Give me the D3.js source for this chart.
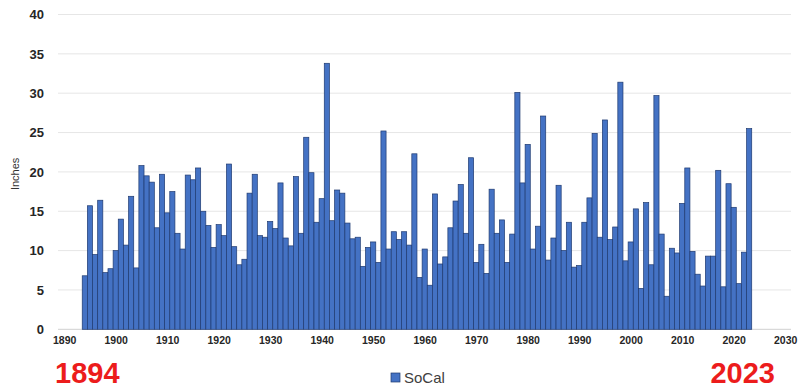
<!DOCTYPE html>
<html>
<head>
<meta charset="utf-8">
<script src="https://cdn.jsdelivr.net/npm/d3@7"></script>
<style>
    body { margin: 0; background: #fff; }
    svg { display: block; font-family: "Liberation Sans", Arial, sans-serif; }
    .axis text { fill: #262626; font-weight: bold; }
    .grid-lines line { stroke: #e6e6e6; stroke-width: 1; }
    .chart-bar { fill: #4472c4; stroke: #1f3a70; stroke-width: 0.7; }
</style>
</head>
<body>
<script>

// Data ////////////////////////////////////

const years = d3.range(1894, 2024);

const rainfall = [
    6.8, 15.7, 9.5, 16.4, 7.2, 7.7, 10.0, 14.0, 10.7, 16.9,
    7.8, 20.8, 19.5, 18.7, 12.9, 19.7, 14.8, 17.5, 12.2, 10.2,
    19.6, 19.0, 20.5, 15.0, 13.2, 10.4, 13.3, 11.9, 21.0, 10.5,
    8.2, 8.9, 17.3, 19.7, 11.9, 11.7, 13.7, 12.8, 18.6, 11.6,
    10.6, 19.4, 12.2, 24.4, 19.9, 13.6, 16.6, 33.8, 13.8, 17.7,
    17.3, 13.5, 11.5, 11.7, 8.0, 10.4, 11.1, 8.5, 25.2, 10.2,
    12.4, 11.4, 12.4, 10.7, 22.3, 6.6, 10.2, 5.6, 17.2, 8.3,
    9.2, 12.9, 16.3, 18.4, 12.2, 21.8, 8.5, 10.8, 7.1, 17.8,
    12.2, 13.9, 8.5, 12.1, 30.1, 18.6, 23.5, 10.2, 13.1, 27.1,
    8.8, 11.6, 18.3, 10.0, 13.6, 7.9, 8.1, 13.6, 16.7, 24.9,
    11.7, 26.6, 11.4, 13.0, 31.4, 8.7, 11.1, 15.3, 5.2, 16.1,
    8.2, 29.7, 12.1, 4.2, 10.3, 9.7, 16.0, 20.5, 9.9, 7.0,
    5.5, 9.3, 9.3, 20.2, 5.4, 18.5, 15.5, 5.8, 9.8, 25.5
];

const xTicks = [1890, 1900, 1910, 1920, 1930, 1940, 1950, 1960, 1970, 1980, 1990, 2000, 2010, 2020, 2030];
const yTicks = [0, 5, 10, 15, 20, 25, 30, 35, 40];

const seriesName = "SoCal";
const yTitle = "Inches";
const firstLabel = "1894";
const lastLabel = "2023";

// Layout ////////////////////////////////////

const dim = { width: 799, height: 390 };
const plot = { left: 58, right: 791, top: 14.5, bottom: 329.3 };

const x = d3.scaleLinear()
    .domain([1890, 2030])
    .range([64.2, 785.2]);

const y = d3.scaleLinear()
    .domain([0, 40])
    .range([plot.bottom, plot.top]);

const barW = x(1) - x(0);

const svg = d3.select("body").append("svg")
    .attr("width", dim.width)
    .attr("height", dim.height)
    .attr("viewBox", [0, 0, dim.width, dim.height]);

// grid lines

svg.append("g")
    .attr("class", "grid-lines")
    .selectAll("line")
    .data(yTicks)
    .join("line")
    .attr("x1", plot.left)
    .attr("x2", plot.right)
    .attr("y1", d => y(d))
    .attr("y2", d => y(d))
    .style("stroke", d => d === 0 ? "#d0d0d0" : null);

// bars

svg.append("g")
    .selectAll("rect")
    .data(years.map((yr, i) => ({ yr, v: rainfall[i] })))
    .join("rect")
    .attr("class", "chart-bar")
    .attr("x", d => x(d.yr) - barW / 2)
    .attr("y", d => y(d.v))
    .attr("width", barW)
    .attr("height", d => y(0) - y(d.v));

// y axis

const yAxis = d3.axisLeft(y)
    .tickValues(yTicks)
    .tickSize(0)
    .tickPadding(0);

svg.append("g")
    .attr("class", "axis y")
    .attr("transform", "translate(44, 0)")
    .style("font-size", "13px")
    .call(yAxis)
    .call(g => g.select(".domain").remove());

svg.append("text")
    .attr("transform", `translate(15, ${ (plot.top + plot.bottom) / 2 + 2 }) rotate(-90)`)
    .attr("text-anchor", "middle")
    .attr("dominant-baseline", "central")
    .style("font-size", "11px")
    .style("fill", "#333")
    .text(yTitle);

// x axis

const xAxis = d3.axisBottom(x)
    .tickValues(xTicks)
    .tickFormat(d3.format("d"))
    .tickSize(0)
    .tickPadding(7);

svg.append("g")
    .attr("class", "axis x")
    .attr("transform", `translate(0, ${ plot.bottom })`)
    .style("font-size", "10.5px")
    .call(xAxis)
    .call(g => g.select(".domain").remove());

// legend

const legend = svg.append("g").attr("transform", "translate(391, 373)");
legend.append("rect")
    .attr("width", 9).attr("height", 9)
    .attr("class", "chart-bar");
legend.append("text")
    .attr("x", 13).attr("y", 10)
    .style("font-size", "15px")
    .style("fill", "#404040")
    .text(seriesName);

// red year labels

svg.append("text")
    .attr("x", 55).attr("y", 383)
    .style("font-size", "29px")
    .style("font-weight", "bold")
    .style("fill", "#ec1c1c")
    .text(firstLabel);

svg.append("text")
    .attr("x", 775).attr("y", 383)
    .attr("text-anchor", "end")
    .style("font-size", "29px")
    .style("font-weight", "bold")
    .style("fill", "#ec1c1c")
    .text(lastLabel);

</script>
</body>
</html>
